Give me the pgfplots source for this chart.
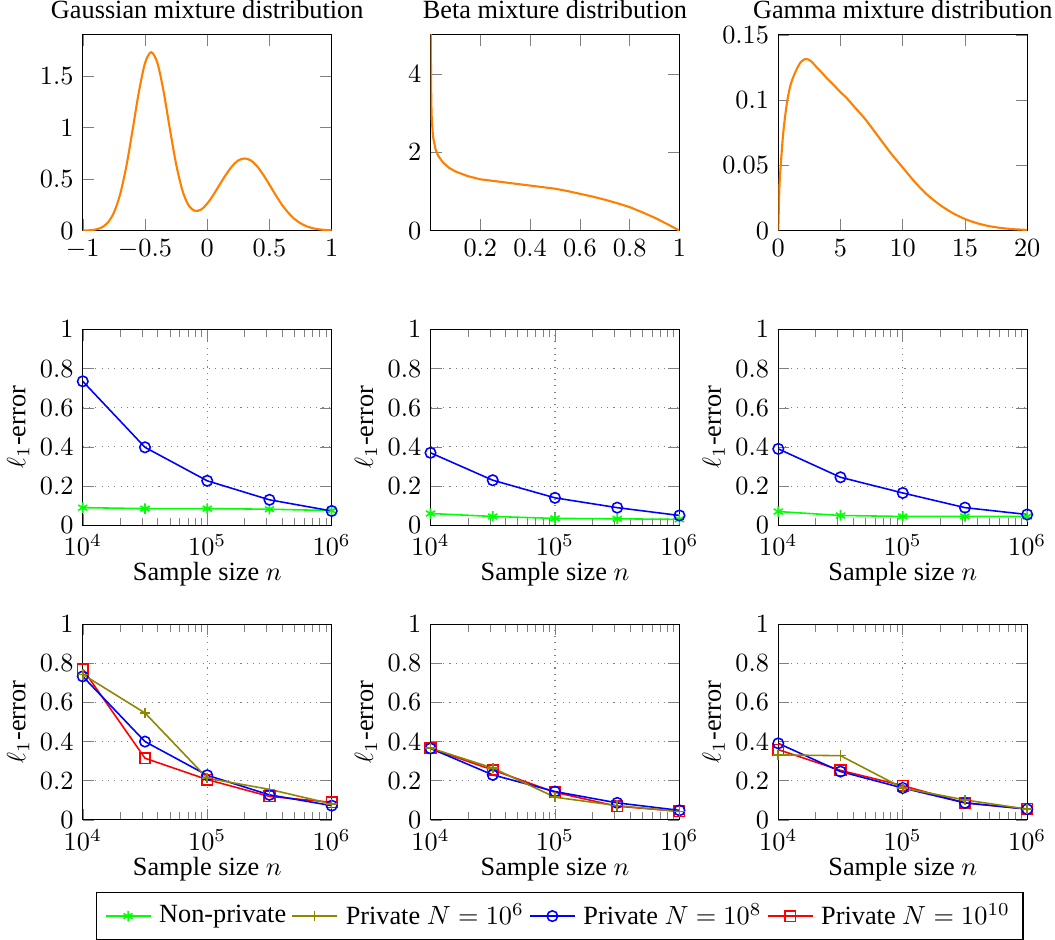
\documentclass[border=0pt]{standalone}
\usepackage{fontspec}
\setmainfont{Liberation Serif}
\usepackage{pgfplots}
\pgfplotsset{compat=1.18}
\usepgfplotslibrary{groupplots}

\tikzset{
  dens/.style={orange, thick, smooth},
  np/.style={green, mark=asterisk, semithick},
  p6/.style={olive, mark=+, semithick},
  p8/.style={blue, mark=o, semithick},
  p10/.style={red, mark=square, semithick},
}

\begin{document}
\begin{tikzpicture}
\begin{groupplot}[
  group style={group size=3 by 3, horizontal sep=37.6pt, vertical sep=37.6pt},
  scale only axis, width=94.7pt, height=74.5pt,
  title style={inner sep=0pt},
  xlabel style={yshift=4.5pt},
  ylabel style={inner sep=0.5pt},
]
% ---- densities
\nextgroupplot[title={Gaussian mixture distribution},
  xmin=-1, xmax=1, ymin=0, ymax=1.9,
  xtick={-1,-0.5,0,0.5,1}, ytick={0,0.5,1,1.5}]
\addplot[dens] coordinates {
  (-1,0.001) (-0.95,0.003) (-0.9,0.010) (-0.85,0.029) (-0.8,0.076)
  (-0.75,0.174) (-0.7,0.351) (-0.65,0.623) (-0.6,0.974) (-0.55,1.340)
  (-0.5,1.624) (-0.45,1.731) (-0.4,1.626) (-0.35,1.346) (-0.3,0.986)
  (-0.25,0.646) (-0.2,0.392) (-0.15,0.245) (-0.1,0.192) (-0.05,0.204)
  (0,0.262) (0.05,0.348) (0.1,0.446) (0.15,0.542) (0.2,0.625)
  (0.25,0.681) (0.3,0.700) (0.35,0.681) (0.4,0.625) (0.45,0.542)
  (0.5,0.445) (0.55,0.345) (0.6,0.252) (0.65,0.175) (0.7,0.114)
  (0.75,0.071) (0.8,0.041) (0.85,0.023) (0.9,0.012) (0.95,0.006) (1,0.003)
};

\nextgroupplot[title={Beta mixture distribution},
  xmin=0, xmax=1, ymin=0, ymax=5,
  xtick={0.2,0.4,0.6,0.8,1}, ytick={0,2,4}]
\addplot[orange, thick] coordinates {
  (0.0002,9) (0.001,4.8) (0.003,3.3) (0.005,2.85) (0.01,2.4) (0.02,2.08)
  (0.03,1.92) (0.05,1.74) (0.075,1.6) (0.1,1.51) (0.15,1.39) (0.2,1.31)
  (0.25,1.27) (0.3,1.23) (0.35,1.19) (0.4,1.15) (0.45,1.11) (0.5,1.07)
  (0.55,1.01) (0.6,0.94) (0.65,0.87) (0.7,0.79) (0.75,0.70) (0.8,0.60)
  (0.85,0.47) (0.9,0.33) (0.95,0.17) (1,0)
};

\nextgroupplot[title={Gamma mixture distribution},
  xmin=0, xmax=20, ymin=0, ymax=0.15,
  xtick={0,5,10,15,20}, ytick={0,0.05,0.1,0.15},
  yticklabel style={/pgf/number format/fixed, /pgf/number format/precision=2}]
\addplot[dens] coordinates {
  (0,0) (0.1,0.035) (0.2,0.05) (0.4,0.075) (0.7,0.098) (1.0,0.112)
  (1.4,0.122) (1.8,0.129) (2.2,0.1315) (2.6,0.130) (3,0.126) (3.5,0.121)
  (4,0.1157) (4.5,0.111) (5,0.106) (5.5,0.1015) (6,0.096) (7,0.0852)
  (8,0.0725) (9,0.0598) (10,0.0483) (11,0.0369) (12,0.0272) (13,0.0196)
  (14,0.0135) (15,0.0089) (16,0.0056) (17,0.0033) (18,0.0019) (19,0.001)
  (20,0.0005)
};

% ---- non-private vs N=10^8
\nextgroupplot[xmode=log, xmin=1e4, xmax=1e6, ymin=0, ymax=1,
  xtick={1e4,1e5,1e6}, ytick={0,0.2,0.4,0.6,0.8,1},
  grid=major, major grid style={dotted, gray},
  xlabel={Sample size $n$}, ylabel={$\ell_1$-error}]
\addplot[np] coordinates {(10000,0.09) (31623,0.085) (100000,0.085) (316228,0.082) (1000000,0.075)};
\addplot[p8] coordinates {(10000,0.735) (31623,0.398) (100000,0.227) (316228,0.13) (1000000,0.073)};

\nextgroupplot[xmode=log, xmin=1e4, xmax=1e6, ymin=0, ymax=1,
  xtick={1e4,1e5,1e6}, ytick={0,0.2,0.4,0.6,0.8,1},
  grid=major, major grid style={dotted, gray},
  xlabel={Sample size $n$}, ylabel={$\ell_1$-error}]
\addplot[np] coordinates {(10000,0.06) (31623,0.045) (100000,0.035) (316228,0.033) (1000000,0.03)};
\addplot[p8] coordinates {(10000,0.37) (31623,0.23) (100000,0.14) (316228,0.09) (1000000,0.05)};

\nextgroupplot[xmode=log, xmin=1e4, xmax=1e6, ymin=0, ymax=1,
  xtick={1e4,1e5,1e6}, ytick={0,0.2,0.4,0.6,0.8,1},
  grid=major, major grid style={dotted, gray},
  xlabel={Sample size $n$}, ylabel={$\ell_1$-error}]
\addplot[np] coordinates {(10000,0.07) (31623,0.05) (100000,0.045) (316228,0.045) (1000000,0.045)};
\addplot[p8] coordinates {(10000,0.39) (31623,0.245) (100000,0.165) (316228,0.09) (1000000,0.055)};

% ---- private N
\nextgroupplot[xmode=log, xmin=1e4, xmax=1e6, ymin=0, ymax=1,
  xtick={1e4,1e5,1e6}, ytick={0,0.2,0.4,0.6,0.8,1},
  grid=major, major grid style={dotted, gray},
  xlabel={Sample size $n$}, ylabel={$\ell_1$-error}]
\addplot[p10] coordinates {(10000,0.77) (31623,0.315) (100000,0.206) (316228,0.12) (1000000,0.09)};
\addplot[p8] coordinates {(10000,0.733) (31623,0.40) (100000,0.228) (316228,0.128) (1000000,0.073)};
\addplot[p6] coordinates {(10000,0.743) (31623,0.546) (100000,0.213) (316228,0.156) (1000000,0.082)};

\nextgroupplot[xmode=log, xmin=1e4, xmax=1e6, ymin=0, ymax=1,
  xtick={1e4,1e5,1e6}, ytick={0,0.2,0.4,0.6,0.8,1},
  grid=major, major grid style={dotted, gray},
  xlabel={Sample size $n$}, ylabel={$\ell_1$-error},
  legend style={at={(0.52,-0.37)}, anchor=north, legend columns=4,
    /tikz/every odd column/.append style={column sep=1pt}}]
\addlegendimage{np}\addlegendentry{Non-private}
\addlegendimage{p6}\addlegendentry{Private $N=10^6$}
\addlegendimage{p8}\addlegendentry{Private $N=10^8$}
\addlegendimage{p10}\addlegendentry{Private $N=10^{10}$}
\addplot[p10, forget plot] coordinates {(10000,0.365) (31623,0.255) (100000,0.141) (316228,0.07) (1000000,0.044)};
\addplot[p8, forget plot] coordinates {(10000,0.365) (31623,0.23) (100000,0.145) (316228,0.087) (1000000,0.049)};
\addplot[p6, forget plot] coordinates {(10000,0.367) (31623,0.265) (100000,0.116) (316228,0.073) (1000000,0.043)};

\nextgroupplot[xmode=log, xmin=1e4, xmax=1e6, ymin=0, ymax=1,
  xtick={1e4,1e5,1e6}, ytick={0,0.2,0.4,0.6,0.8,1},
  grid=major, major grid style={dotted, gray},
  xlabel={Sample size $n$}, ylabel={$\ell_1$-error}]
\addplot[p10] coordinates {(10000,0.359) (31623,0.253) (100000,0.175) (316228,0.087) (1000000,0.056)};
\addplot[p8] coordinates {(10000,0.391) (31623,0.247) (100000,0.163) (316228,0.087) (1000000,0.055)};
\addplot[p6] coordinates {(10000,0.332) (31623,0.328) (100000,0.163) (316228,0.102) (1000000,0.055)};
\end{groupplot}
% a little white margin at the left, as in the original
\path ([xshift=-2.2pt]current bounding box.west);
\end{tikzpicture}
\end{document}
